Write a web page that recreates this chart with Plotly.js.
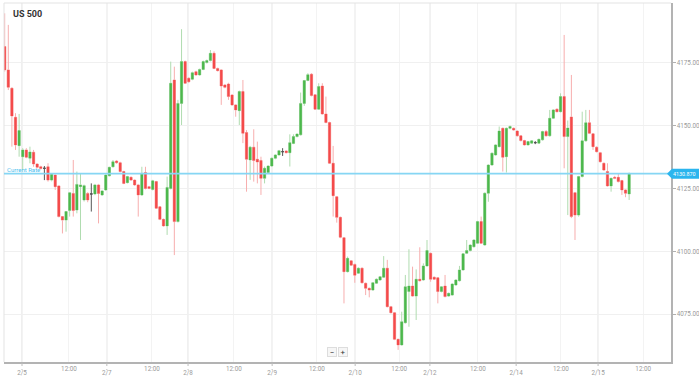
<!DOCTYPE html>
<html><head><meta charset="utf-8">
<script src="https://cdn.plot.ly/plotly-3.0.1.min.js"></script>
<style>html,body{margin:0;padding:0;background:#fff;overflow:hidden}#chart{width:699px;height:380px}</style>
</head><body><div id="chart"></div>
<script>
// Hourly US 500 candles (price values)
const openP = [
4181.4,4172.1,4164.8,4153.3,4142.0,4137.6,4140.3,4137.0,4139.4,4134.7,
4133.6,4133.0,4133.6,4128.3,4130.3,4126.0,4113.8,4112.4,4116.2,4123.0,
4116.4,4125.7,4120.4,4123.0,4122.8,4122.8,4126.4,4122.4,4124.4,4130.0,
4133.6,4135.9,4135.2,4131.7,4127.3,4129.4,4128.3,4126.4,4122.4,4131.3,
4125.7,4124.6,4127.7,4117.7,4112.7,4110.1,4125.0,4168.1,4111.8,4158.8,
4175.4,4168.8,4168.4,4171.4,4170.1,4172.3,4175.0,4175.8,4178.7,4172.7,
4172.1,4166.1,4166.5,4162.1,4158.2,4155.9,4163.5,4147.2,4136.3,4141.4,
4136.6,4136.1,4129.0,4131.3,4133.9,4137.0,4138.3,4139.6,4139.9,4139.2,
4142.9,4145.6,4146.3,4158.8,4167.9,4170.4,4162.2,4156.5,4165.7,4154.6,
4151.2,4135.0,4121.7,4113.5,4105.4,4091.9,4096.2,4094.8,4091.3,4093.3,
4087.3,4085.3,4084.6,4087.3,4088.6,4089.7,4093.3,4078.0,4075.6,4065.0,
4062.8,4071.6,4084.0,4086.2,4082.2,4088.9,4088.6,4094.2,4099.2,4089.7,
4089.5,4084.0,4086.2,4082.2,4082.6,4086.6,4088.3,4092.6,4099.2,4100.3,
4101.8,4103.2,4111.8,4102.5,4123.1,4134.3,4138.3,4141.6,4148.9,4137.6,
4148.9,4148.9,4147.8,4145.9,4144.0,4142.3,4143.0,4143.2,4143.0,4144.3,
4147.6,4145.9,4152.9,4156.5,4155.5,4161.5,4145.6,4153.4,4123.3,4114.4,
4129.7,4143.9,4151.1,4146.7,4141.4,4139.2,4135.0,4131.7,4126.0,4129.4,
4129.4,4128.1,4124.4,4122.8];
const highP = [
4194.6,4190.0,4165.2,4154.9,4154.6,4141.0,4141.0,4141.6,4140.3,4135.0,
4134.0,4133.9,4135.0,4131.0,4130.6,4126.2,4114.0,4116.0,4123.6,4136.3,
4131.7,4131.0,4126.5,4123.5,4127.0,4126.8,4126.8,4124.4,4130.6,4133.6,
4136.3,4136.3,4135.6,4132.0,4130.0,4129.8,4128.6,4126.8,4133.6,4133.6,
4126.0,4128.4,4128.0,4118.0,4113.0,4129.7,4175.4,4173.4,4160.2,4188.3,
4175.8,4169.2,4171.4,4171.8,4172.6,4175.8,4176.2,4180.0,4179.5,4173.0,
4172.4,4166.5,4167.0,4162.5,4158.5,4163.9,4168.1,4148.2,4141.9,4148.5,
4143.6,4137.6,4133.7,4134.2,4137.3,4138.6,4140.3,4141.0,4140.2,4146.5,
4146.5,4146.9,4163.1,4168.1,4170.8,4170.8,4162.5,4166.8,4166.8,4161.5,
4151.5,4141.9,4122.0,4113.8,4105.7,4097.9,4096.5,4095.1,4093.6,4093.6,
4087.6,4085.6,4087.8,4089.2,4090.2,4098.1,4096.6,4078.3,4075.9,4065.3,
4076.0,4090.6,4100.8,4093.9,4092.8,4101.6,4095.2,4104.5,4099.5,4090.0,
4089.8,4086.2,4090.6,4083.6,4087.3,4088.9,4094.2,4099.3,4104.5,4102.8,
4104.8,4112.1,4113.8,4123.4,4134.6,4139.3,4142.6,4149.6,4149.2,4149.2,
4150.0,4149.2,4148.1,4146.2,4144.3,4143.9,4144.2,4143.8,4144.8,4147.9,
4148.2,4156.2,4156.5,4156.8,4162.8,4186.0,4152.0,4170.1,4123.6,4130.0,
4155.5,4156.2,4156.2,4147.0,4141.7,4139.5,4135.3,4135.0,4129.3,4130.0,
4131.0,4128.4,4124.7,4131.3];
const lowP = [
4171.4,4164.1,4141.6,4140.3,4137.6,4132.3,4137.0,4135.0,4133.6,4133.0,
4132.5,4128.3,4127.7,4127.8,4124.4,4113.5,4107.1,4107.8,4113.8,4113.8,
4115.1,4104.5,4119.8,4119.5,4115.8,4122.3,4111.1,4122.0,4124.0,4129.8,
4133.3,4134.8,4131.4,4126.7,4127.0,4128.0,4126.0,4113.8,4122.0,4124.6,
4124.7,4124.2,4116.8,4112.4,4109.8,4106.5,4124.6,4098.5,4111.5,4150.2,
4166.5,4167.0,4168.0,4169.8,4169.8,4172.0,4174.7,4175.5,4172.4,4171.5,
4158.2,4164.8,4160.2,4157.8,4153.5,4150.2,4143.0,4123.7,4128.4,4127.7,
4127.0,4122.4,4127.0,4130.9,4133.5,4136.6,4138.0,4137.9,4138.9,4133.7,
4142.6,4145.3,4146.0,4157.8,4167.6,4161.6,4156.2,4156.2,4154.3,4150.9,
4134.7,4113.8,4111.4,4105.2,4079.3,4091.6,4094.2,4087.5,4091.0,4087.2,
4082.6,4081.7,4084.3,4087.0,4088.3,4089.4,4077.7,4075.3,4064.7,4060.8,
4062.5,4071.3,4070.0,4081.9,4072.7,4088.0,4088.3,4093.9,4087.9,4088.6,
4079.3,4083.7,4081.7,4081.9,4082.3,4086.3,4088.0,4092.3,4098.9,4100.0,
4101.5,4102.9,4102.9,4102.2,4119.7,4134.0,4138.0,4141.3,4131.7,4131.3,
4148.5,4147.9,4145.6,4143.7,4142.0,4142.0,4142.7,4142.6,4142.7,4144.0,
4145.6,4145.6,4152.6,4155.2,4155.2,4133.0,4114.4,4113.2,4104.5,4113.8,
4129.4,4143.6,4146.6,4140.3,4139.3,4135.3,4132.0,4125.7,4123.7,4128.7,
4127.4,4122.4,4121.5,4120.4];
const closeP = [
4172.1,4165.2,4153.8,4142.3,4148.0,4140.3,4137.4,4139.5,4134.7,4133.4,
4132.9,4133.0,4128.3,4130.6,4125.7,4113.8,4112.4,4115.8,4123.3,4116.2,
4126.6,4126.4,4126.1,4120.4,4122.8,4126.4,4123.0,4124.0,4130.3,4133.4,
4135.6,4135.2,4131.7,4127.0,4129.7,4128.3,4126.4,4122.4,4131.0,4125.0,
4125.0,4128.0,4117.1,4112.7,4110.1,4125.4,4166.8,4111.8,4158.8,4175.4,
4166.8,4167.4,4171.0,4170.1,4172.3,4175.4,4175.8,4178.7,4172.7,4171.8,
4165.7,4165.2,4161.5,4158.2,4156.2,4163.5,4146.9,4136.6,4141.4,4136.1,
4135.5,4129.0,4133.0,4133.9,4137.0,4138.3,4140.0,4139.6,4139.2,4143.2,
4145.6,4146.6,4158.8,4167.9,4170.2,4161.9,4156.5,4165.5,4154.6,4151.2,
4135.0,4122.1,4113.5,4105.6,4091.9,4097.2,4094.5,4090.5,4093.3,4087.5,
4085.3,4084.6,4087.5,4088.9,4089.9,4093.3,4078.0,4075.6,4065.0,4062.8,
4072.0,4085.9,4086.2,4082.2,4088.9,4088.3,4094.2,4100.3,4088.9,4088.9,
4084.0,4085.9,4082.0,4083.3,4087.0,4088.6,4092.6,4099.0,4100.3,4102.5,
4104.5,4111.8,4103.2,4123.1,4134.3,4139.0,4142.3,4147.8,4137.4,4148.9,
4149.6,4148.2,4145.9,4144.0,4142.3,4143.6,4143.9,4143.2,4144.5,4147.6,
4145.9,4152.9,4156.2,4155.5,4161.5,4145.6,4149.0,4113.8,4114.4,4129.7,
4143.9,4151.1,4146.9,4141.6,4139.6,4135.6,4132.3,4126.0,4129.0,4129.0,
4127.7,4124.4,4123.1,4130.7];

// x-axis ticks (positions in candle index units) and their labels
const tickPos = [4.8,17.8,28.3,40.8,50.8,63.5,74.1,86.5,97.1,109.3,117.8,131.1,141.7,154.1,164.4,176.9];
const tickLabels = ['2/5','12:00','2/7','12:00','2/8','12:00','2/9','12:00','2/10','12:00','2/12','12:00','2/14','12:00','2/15','12:00'];
const yTicks = [4075,4100,4125,4150,4175];
const currentRate = 4130.87;
const currentRateText = '4130.870';
const chartTitle = 'US 500';

const idx = closeP.map((_, i) => i);
const isDoji = idx.map(i => openP[i] === closeP[i]);
const sel = cond => idx.filter(cond);
const normIdx = sel(i => !isDoji[i]);
const dojiIdx = sel(i => isDoji[i]);
const take = (arr, ids) => ids.map(i => arr[i]);

const GREEN = '#4cb84c', RED = '#f44a4a', GREEN_W = '#b0dcb0', RED_W = '#f7aeae', GREY = '#555555';

const wickTrace = {
  type: 'candlestick', x: normIdx,
  open: take(openP, normIdx), high: take(highP, normIdx), low: take(lowP, normIdx), close: take(closeP, normIdx),
  increasing: {line: {color: GREEN_W, width: 1}, fillcolor: GREEN_W},
  decreasing: {line: {color: RED_W, width: 1}, fillcolor: RED_W},
  whiskerwidth: 0, showlegend: false, hoverinfo: 'none'
};
const bodyTrace = {
  type: 'candlestick', x: normIdx,
  open: take(openP, normIdx), close: take(closeP, normIdx),
  high: normIdx.map(i => Math.max(openP[i], closeP[i])),
  low: normIdx.map(i => Math.min(openP[i], closeP[i])),
  increasing: {line: {color: GREEN, width: 0}, fillcolor: GREEN},
  decreasing: {line: {color: RED, width: 0}, fillcolor: RED},
  whiskerwidth: 0, showlegend: false, hoverinfo: 'none'
};
const dojiTrace = {
  type: 'candlestick', x: dojiIdx,
  open: take(openP, dojiIdx), high: take(highP, dojiIdx), low: take(lowP, dojiIdx), close: take(closeP, dojiIdx),
  increasing: {line: {color: GREY, width: 1}, fillcolor: GREY},
  decreasing: {line: {color: GREY, width: 1}, fillcolor: GREY},
  whiskerwidth: 0, showlegend: false, hoverinfo: 'none'
};
const dummy = {type: 'scatter', x: [], y: [], xaxis: 'x2', yaxis: 'y', showlegend: false, hoverinfo: 'skip'};

const isDate = t => t.indexOf('/') >= 0;
const datePos = tickPos.filter((p, k) => isDate(tickLabels[k]));
const dateLab = tickLabels.filter(isDate);
const xRange = [-0.19, 184.6];
const tickFont = {family: 'Roboto, Arial, sans-serif', size: 6.3, color: '#9a9a9a'};

const shapes = [];
datePos.forEach(p => {
  shapes.push({type: 'line', xref: 'x', yref: 'paper', x0: p, x1: p, y0: 0, y1: 1, layer: 'below', line: {color: '#e6e6e6', width: 1.3}});
  shapes.push({type: 'line', xref: 'x', yref: 'paper', ysizemode: 'pixel', yanchor: 0, x0: p, x1: p, y0: -1, y1: -8, line: {color: '#bdbdbd', width: 1, dash: 'dot'}});
});
shapes.push({type: 'line', xref: 'paper', yref: 'paper', x0: 0, x1: 1, y0: 1, y1: 1, line: {color: '#e3e3e3', width: 1}});
shapes.push({type: 'line', xref: 'paper', yref: 'paper', x0: 0, x1: 0, y0: 0, y1: 1, line: {color: '#e3e3e3', width: 1}});
shapes.push({type: 'line', xref: 'paper', yref: 'y', x0: 0, x1: 1, y0: currentRate, y1: currentRate, line: {color: '#86d6f4', width: 1.6}});
shapes.push({type: 'path', xref: 'paper', yref: 'y', xsizemode: 'pixel', ysizemode: 'pixel', xanchor: 1, yanchor: currentRate,
  path: 'M -4 0 L 1 -5 L 28 -5 L 28 5 L 1 5 Z', fillcolor: '#2bb5ee', line: {width: 0}});

const annotations = [
  {xref: 'paper', yref: 'y', x: 0, y: currentRate, xanchor: 'left', yanchor: 'bottom', xshift: 1, yshift: -1,
   text: 'Current Rate', showarrow: false, font: {family: 'Roboto, Arial, sans-serif', size: 6, color: '#4cc0ee'}},
  {xref: 'paper', yref: 'y', x: 1, y: currentRate, xanchor: 'left', yanchor: 'middle', xshift: 0,
   text: currentRateText, showarrow: false, font: {family: 'Roboto, Arial, sans-serif', size: 5.4, color: '#ffffff'}},
  {xref: 'paper', yref: 'paper', x: (332 - 4) / 667, y: (362 - 352) / 359, xanchor: 'center', yanchor: 'middle',
   text: '−', showarrow: false, width: 8, height: 8, bgcolor: '#f6f6f6', bordercolor: '#dddddd', borderwidth: 1, borderpad: 0,
   font: {family: 'Roboto, Arial, sans-serif', size: 8, color: '#333'}},
  {xref: 'paper', yref: 'paper', x: (343 - 4) / 667, y: (362 - 352) / 359, xanchor: 'center', yanchor: 'middle',
   text: '+', showarrow: false, width: 8, height: 8, bgcolor: '#f6f6f6', bordercolor: '#dddddd', borderwidth: 1, borderpad: 0,
   font: {family: 'Roboto, Arial, sans-serif', size: 8, color: '#333'}}
];

const layout = {
  width: 699, height: 380,
  margin: {l: 4, r: 28, t: 3, b: 18, pad: 0},
  paper_bgcolor: '#ffffff', plot_bgcolor: '#ffffff',
  showlegend: false, dragmode: false,
  boxgap: 0.25, boxgroupgap: 0.15, boxmode: 'overlay',
  title: {text: '<b>' + chartTitle + '</b>', x: 13 / 699, xanchor: 'left', y: 1 - 14 / 380, yanchor: 'middle',
    font: {family: 'Roboto, Arial, sans-serif', size: 9, color: '#333333'}},
  xaxis: {range: xRange, rangeslider: {visible: false}, tickmode: 'array', tickvals: tickPos,
    ticktext: tickLabels.map(t => isDate(t) ? '' : t),
    showgrid: true, gridcolor: '#f3f3f3', gridwidth: 1, showline: true, linecolor: '#b3b3b3', linewidth: 1.5,
    ticks: '', ticklabelstandoff: 0, tickfont: tickFont, zeroline: false, fixedrange: true},
  xaxis2: {overlaying: 'x', anchor: 'y', side: 'bottom', range: xRange, tickmode: 'array', tickvals: datePos, ticktext: dateLab,
    showgrid: false, showline: false, ticks: '', ticklabelstandoff: 6, tickfont: tickFont, zeroline: false, fixedrange: true},
  yaxis: {side: 'right', range: [4056, 4198.7], tickmode: 'array', tickvals: yTicks, ticktext: yTicks.map(v => v.toFixed(2)),
    showgrid: true, gridcolor: '#f0f0f0', gridwidth: 1, showline: true, linecolor: '#b3b3b3', linewidth: 1.5,
    ticks: 'outside', ticklen: 3, tickcolor: '#b0b0b0', tickwidth: 1, tickfont: tickFont, zeroline: false, fixedrange: true},
  shapes: shapes, annotations: annotations
};

Plotly.newPlot('chart', [wickTrace, bodyTrace, dojiTrace, dummy], layout, {displayModeBar: false, staticPlot: true});
</script>
</body></html>
